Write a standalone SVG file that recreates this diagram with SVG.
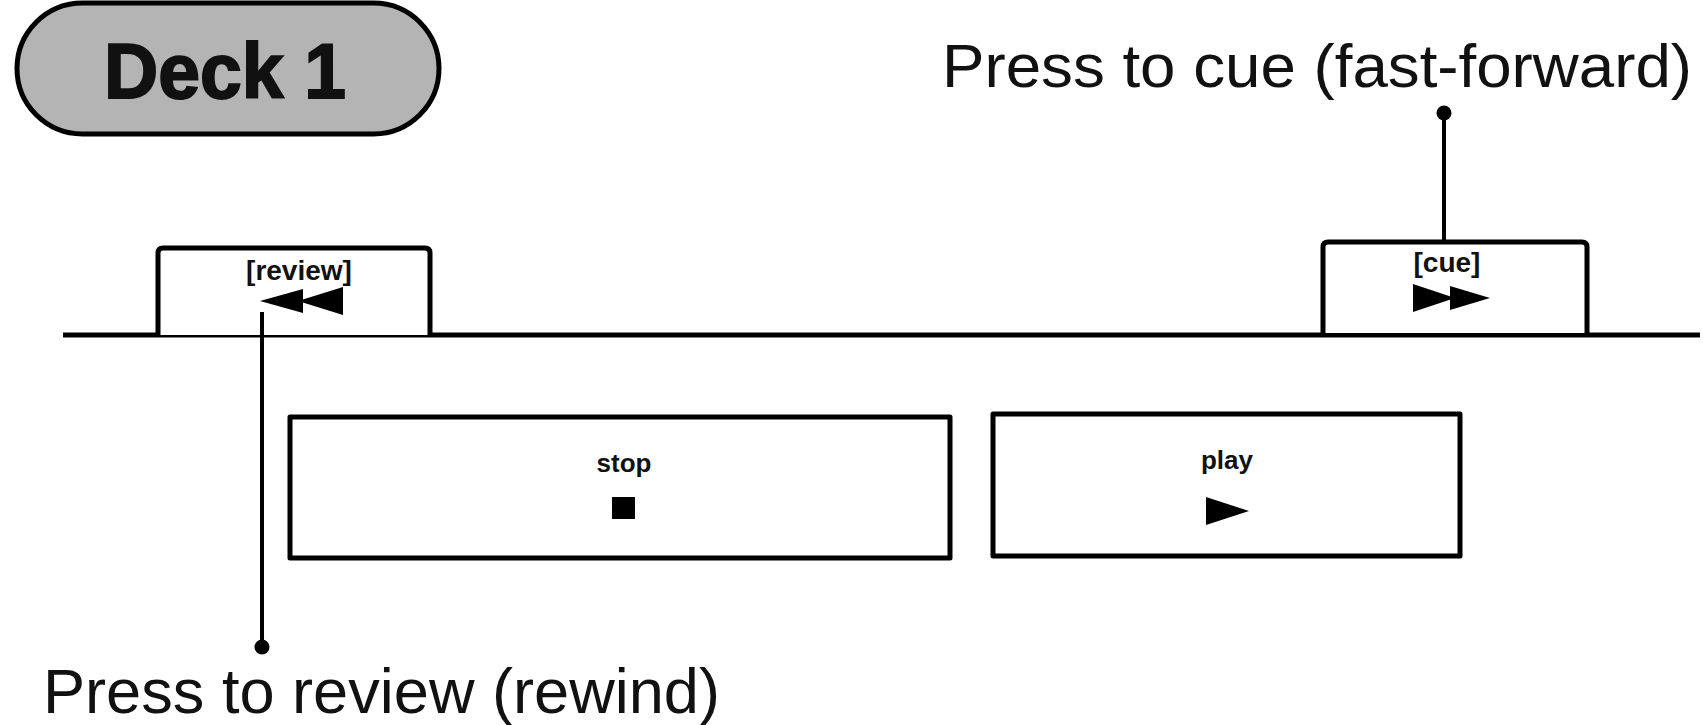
<svg xmlns="http://www.w3.org/2000/svg" width="1703" height="725" viewBox="0 0 1703 725">
<style>
.box{fill:#fff;stroke:#000;stroke-width:5;stroke-linejoin:round}
.tab{fill:#fff;stroke:#000;stroke-width:5;stroke-linejoin:round}
.lbl{font-family:"Liberation Sans",Arial,sans-serif;font-weight:bold;fill:#111;text-anchor:middle}
.call{font-family:"Liberation Sans",Arial,sans-serif;fill:#111}
.lead{stroke:#000;stroke-width:4;fill:none}
.ico{fill:#000}
</style>
<rect width="1703" height="725" fill="#fff"/>
<g id="deck-title">
<rect x="17" y="3" width="422" height="131" rx="65.5" fill="#b4b4b4" stroke="#000" stroke-width="5"/>
<text x="225" y="98" class="lbl" font-size="78" stroke="#111" stroke-width="2" textLength="242" lengthAdjust="spacingAndGlyphs">Deck 1</text>
</g>
<g id="base-line">
<line x1="63" y1="335" x2="1700" y2="335" stroke="#000" stroke-width="5"/>
</g>
<g id="review-button">
<path class="tab" d="M158 335 V253 Q158 248 163 248 H425 Q430 248 430 253 V335"/>
<text x="299" y="280" class="lbl" font-size="28">[review]</text>
<polygon class="ico" points="260,301 303,289 303,313"/>
<polygon class="ico" points="298,301 343,287 343,315"/>
</g>
<g id="cue-button">
<path class="tab" d="M1323 333 V247 Q1323 242 1328 242 H1582 Q1587 242 1587 247 V333"/>
<text x="1447" y="272" class="lbl" font-size="28">[cue]</text>
<polygon class="ico" points="1413,284 1455,298 1413,312"/>
<polygon class="ico" points="1450,286 1490,298 1450,310"/>
</g>
<g id="stop-button">
<rect class="box" x="290" y="417" width="660" height="141"/>
<text x="624" y="472" class="lbl" font-size="26">stop</text>
<rect class="ico" x="612" y="497" width="23" height="22"/>
</g>
<g id="play-button">
<rect class="box" x="993" y="414" width="467" height="142"/>
<text x="1227" y="469" class="lbl" font-size="26">play</text>
<polygon class="ico" points="1206,497 1249,511 1206,525"/>
</g>
<g id="connectors">
<line class="lead" x1="1444" y1="113" x2="1444" y2="242"/>
<circle class="ico" cx="1444" cy="113" r="7.5"/>
<line class="lead" x1="262" y1="312" x2="262" y2="647"/>
<circle class="ico" cx="262" cy="647" r="7.5"/>
</g>
<g id="callout-cue">
<text x="942" y="87" class="call" font-size="61" textLength="750" lengthAdjust="spacingAndGlyphs">Press to cue (fast-forward)</text>
</g>
<g id="callout-review">
<text x="43" y="713" class="call" font-size="63" textLength="677" lengthAdjust="spacingAndGlyphs">Press to review (rewind)</text>
</g>
</svg>
